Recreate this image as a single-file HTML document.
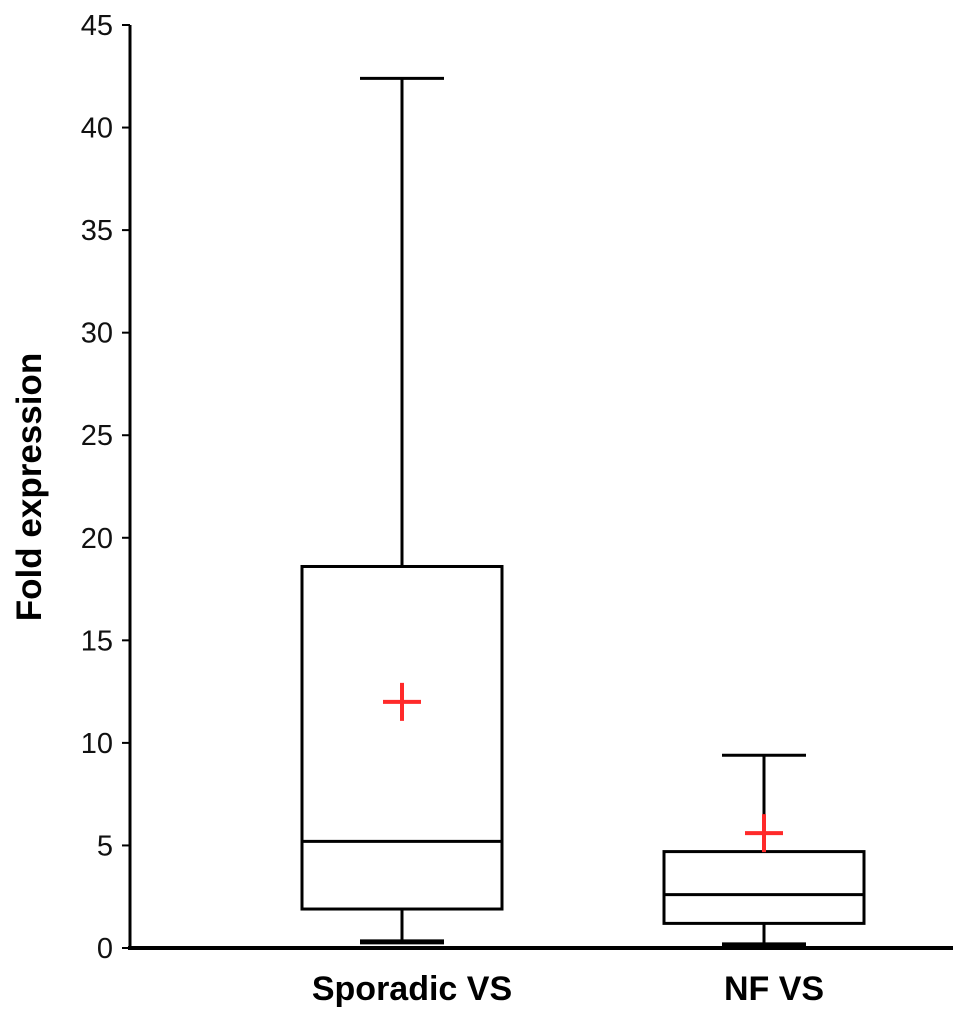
<!DOCTYPE html>
<html><head><meta charset="utf-8"><style>
html,body{margin:0;padding:0;background:#fff;}
svg{display:block;font-family:"Liberation Sans",Arial,sans-serif;}
</style></head><body>
<svg id="chart" width="969" height="1019"></svg>
<script>
const categories = ["Sporadic VS", "NF VS"];
const whiskerLow = [0.3, 0.15];
const q1Values = [1.9, 1.2];
const medians = [5.2, 2.6];
const q3Values = [18.6, 4.7];
const whiskerHigh = [42.4, 9.4];
const means = [12.0, 5.6];
const yTicks = [0,5,10,15,20,25,30,35,40,45];

const svg = document.getElementById('chart');
const NS = 'http://www.w3.org/2000/svg';
const y0 = 948, y45 = 25, axisX = 130;
const y = v => y0 - (v/45)*(y0-y45);
const xCenter = i => 402 + i*362;
const boxHalf = 100, capHalf = 42;

function mk(tag, attrs, parent){
  const e = document.createElementNS(NS, tag);
  for (const k in attrs) e.setAttribute(k, attrs[k]);
  (parent||svg).appendChild(e);
  return e;
}

const yAxis = mk('line',{x1:axisX,y1:y45,x2:axisX,y2:y0+2,stroke:'#000','stroke-width':3});


const xAxis = mk('line',{x1:axisX-2,y1:y0,x2:953,y2:y0,stroke:'#000','stroke-width':4});



yTicks.forEach(t=>{
  const tk = mk('line',{x1:axisX-8,y1:y(t),x2:axisX,y2:y(t),stroke:'#000','stroke-width':2});
  
  
  const lb = mk('text',{x:113,y:y(t)+10,'text-anchor':'end','font-size':29,fill:'#111'});
  lb.textContent = String(t);
  
  
});

const yt = mk('text',{x:0,y:0,transform:'translate(41,487) rotate(-90)','text-anchor':'middle','font-size':35,'font-weight':'bold',fill:'#000'});
yt.textContent = 'Fold expression';



categories.forEach((c,i)=>{
  const cx = xCenter(i);
  const g = mk('g',{stroke:'#000','stroke-width':3,fill:'none'});
  
  
  mk('line',{x1:cx,y1:y(whiskerHigh[i]),x2:cx,y2:y(q3Values[i])},g);
  mk('line',{x1:cx,y1:y(q1Values[i]),x2:cx,y2:y(whiskerLow[i])},g);
  mk('line',{x1:cx-capHalf,y1:y(whiskerHigh[i]),x2:cx+capHalf,y2:y(whiskerHigh[i])},g);
  mk('line',{x1:cx-capHalf,y1:y(whiskerLow[i]),x2:cx+capHalf,y2:y(whiskerLow[i]),'stroke-width':5},g);
  mk('rect',{x:cx-boxHalf,y:y(q3Values[i]),width:boxHalf*2,height:y(q1Values[i])-y(q3Values[i])},g);
  mk('line',{x1:cx-boxHalf,y1:y(medians[i]),x2:cx+boxHalf,y2:y(medians[i])},g);
  const m = mk('g',{stroke:'#ff2a2a','stroke-width':4});
  
  
  mk('line',{x1:cx-19,y1:y(means[i]),x2:cx+19,y2:y(means[i])},m);
  mk('line',{x1:cx,y1:y(means[i])-19,x2:cx,y2:y(means[i])+19},m);
  const lb = mk('text',{x:cx+10,y:1000,'text-anchor':'middle','font-size':34,'font-weight':'bold',fill:'#000'});
  lb.textContent = c;
  
  
});
</script>
</body></html>
